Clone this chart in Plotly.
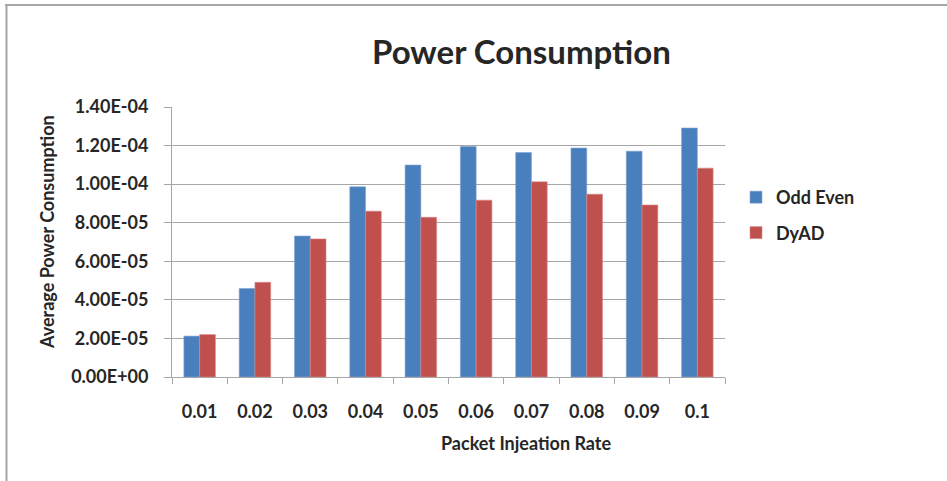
import plotly.graph_objects as go

categories = ["0.01", "0.02", "0.03", "0.04", "0.05", "0.06", "0.07", "0.08", "0.09", "0.1"]
odd_even = [2.12e-5, 4.59e-5, 7.31e-5, 9.86e-5, 1.099e-4, 1.195e-4, 1.164e-4, 1.187e-4, 1.171e-4, 1.291e-4]
dyad = [2.20e-5, 4.91e-5, 7.16e-5, 8.60e-5, 8.28e-5, 9.17e-5, 1.012e-4, 9.48e-5, 8.92e-5, 1.083e-4]
y_ticks = [0, 2e-5, 4e-5, 6e-5, 8e-5, 1e-4, 1.2e-4, 1.4e-4]
y_tick_labels = [f"{v:.2E}" for v in y_ticks]

FONT = "Lato"
TXT = "#262626"
GRID = "#a6a6a6"

W, H = 947, 481
L, R, T, B = 172, 725, 107, 377

fig = go.Figure()
fig.add_trace(go.Bar(x=categories, y=odd_even, name="Odd Even",
                     marker=dict(color="#4a7fbd", line=dict(width=0.6, color="#7fa3d3")),
                     legendgroup="a"))
fig.add_trace(go.Bar(x=categories, y=dyad, name="DyAD",
                     marker=dict(color="#c0504d", line=dict(width=0.6, color="#d88a88")),
                     legendgroup="b"))

def px_x(px):
    return (px - L) / (R - L)

def px_y(py):
    return (B - py) / (B - T)

fig.update_layout(
    width=W, height=H,
    margin=dict(l=L, r=W - R, t=T, b=H - B),
    paper_bgcolor="white", plot_bgcolor="white",
    barmode="group", bargap=0.43, bargroupgap=0,
    font=dict(family=FONT, color=TXT),
    showlegend=True,
    legend=dict(x=px_x(736), y=px_y(179), xanchor="left", yanchor="top",
                font=dict(family=FONT, size=18, color=TXT, weight="bold"),
                tracegroupgap=9, traceorder="grouped", itemwidth=30),
    xaxis=dict(type="category", showgrid=False, showline=True, linecolor=GRID, linewidth=1,
               ticks="outside", tickson="boundaries", ticklen=6, tickcolor=GRID,
               ticklabelstandoff=18,
               tickfont=dict(family=FONT, size=18, color=TXT, weight="bold"), fixedrange=True),
    yaxis=dict(range=[0, 1.4e-4], tickvals=y_ticks, ticktext=y_tick_labels,
               showgrid=True, gridcolor=GRID, gridwidth=1,
               showline=True, linecolor=GRID, linewidth=1,
               ticks="outside", ticklen=7, tickcolor=GRID, ticklabelstandoff=12,
               tickfont=dict(family=FONT, size=18, color=TXT, weight="bold"), zeroline=False),
)

fig.add_annotation(text="Power Consumption", xref="paper", yref="paper",
                   x=px_x(521), y=px_y(51), showarrow=False, xanchor="center", yanchor="middle",
                   font=dict(family=FONT, size=33, color=TXT, weight="bold"))
fig.add_annotation(text="Packet Injeation Rate", xref="paper", yref="paper",
                   x=px_x(526), y=px_y(443), showarrow=False, xanchor="center", yanchor="middle",
                   font=dict(family=FONT, size=18, color=TXT, weight="bold"))
fig.add_annotation(text="Average Power Consumption", xref="paper", yref="paper",
                   x=px_x(47), y=px_y(232), showarrow=False, xanchor="center", yanchor="middle",
                   textangle=-90,
                   font=dict(family=FONT, size=18, color=TXT, weight="bold"))

fig.add_shape(type="line", xref="paper", yref="paper",
              x0=px_x(5), x1=px_x(947), y0=px_y(5), y1=px_y(5),
              line=dict(color="#a6a6a6", width=2))
fig.add_shape(type="line", xref="paper", yref="paper",
              x0=px_x(6.5), x1=px_x(6.5), y0=px_y(5), y1=px_y(481),
              line=dict(color="#a6a6a6", width=2))

fig.write_html("out.html")
